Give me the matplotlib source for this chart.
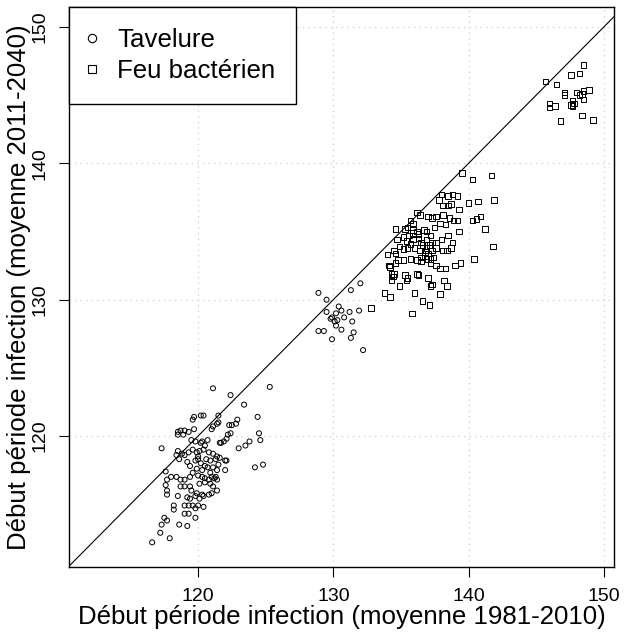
import numpy as np
import matplotlib
matplotlib.use("Agg")
import matplotlib.pyplot as plt
from matplotlib.lines import Line2D

plt.rcParams['font.family'] = ['Liberation Sans', 'DejaVu Sans']

# Tavelure : (moyenne 1981-2010, moyenne 2011-2040)
tavelure = [
    (121.1, 123.5), (125.3, 123.6), (122.4, 123.0), (123.4, 122.3), (124.4, 121.4),
    (119.7, 121.4), (119.6, 121.2), (120.2, 121.5), (120.4, 121.5), (121.5, 121.5),
    (122.9, 121.2), (122.8, 120.9), (122.5, 120.8), (122.3, 120.8), (121.5, 121.0),
    (121.4, 120.9), (121.1, 120.7), (121.0, 120.5), (124.5, 120.2), (118.5, 120.3),
    (118.7, 120.4), (119.0, 120.4), (118.5, 120.1), (118.9, 120.1), (119.3, 120.3),
    (119.7, 120.5), (122.4, 120.2), (122.2, 120.1), (122.1, 119.8), (121.9, 119.6),
    (121.7, 119.5), (121.6, 119.5), (124.6, 119.7), (123.8, 119.6), (123.5, 119.3),
    (123.0, 119.1), (117.3, 119.1), (119.5, 119.7), (119.8, 119.6), (120.2, 119.5),
    (120.3, 119.6), (120.7, 119.7), (120.5, 119.3), (118.5, 118.9), (118.8, 118.7),
    (118.4, 118.6), (118.6, 118.3), (119.0, 118.6), (119.3, 118.8), (119.6, 119.0),
    (119.9, 118.8), (120.1, 118.9), (120.0, 118.5), (120.8, 118.8), (121.1, 118.7),
    (121.4, 118.5), (121.3, 118.3), (121.6, 118.4), (120.9, 118.2), (122.0, 118.2),
    (122.1, 118.2), (121.5, 117.9), (121.1, 117.7), (121.4, 117.5), (122.0, 117.5),
    (120.7, 117.7), (120.9, 117.3), (121.3, 117.0), (121.2, 116.9), (124.2, 117.7),
    (124.8, 117.9), (117.6, 117.4), (118.0, 117.0), (118.4, 117.0), (118.7, 116.8),
    (119.0, 116.8), (119.4, 117.0), (119.6, 117.3), (120.0, 117.1), (120.3, 117.0),
    (120.5, 116.9), (120.8, 116.8), (121.0, 117.0), (121.4, 116.8), (117.7, 116.8),
    (117.6, 116.4), (117.7, 116.0), (117.7, 115.7), (118.7, 116.3), (119.0, 116.3),
    (119.4, 116.3), (120.1, 116.5), (120.5, 116.6), (120.9, 116.5), (121.1, 116.3),
    (121.4, 116.0), (121.0, 115.8), (120.8, 115.7), (120.3, 115.7), (119.9, 115.8),
    (119.5, 116.0), (118.5, 115.6), (119.2, 115.5), (119.4, 115.4), (119.8, 115.6),
    (120.1, 115.4), (120.4, 115.6), (118.2, 114.9), (118.2, 114.6), (119.0, 114.9),
    (119.3, 114.9), (119.6, 114.9), (120.0, 114.9), (120.4, 114.8), (119.8, 114.7),
    (119.0, 114.3), (119.3, 114.3), (119.8, 114.0), (117.5, 114.0), (117.7, 113.8),
    (117.3, 113.5), (117.2, 112.9), (117.9, 112.5), (118.6, 113.5), (119.2, 113.4),
    (116.6, 112.2),
    (119.8, 118.2), (120.2, 118.0), (120.5, 117.8), (119.9, 117.6), (120.3, 117.5),
    (120.6, 118.3), (119.4, 117.8), (120.0, 118.3), (119.2, 118.1), (120.4, 119.0),
    (132.0, 131.2), (131.3, 130.7), (128.9, 130.5), (129.5, 130.0), (130.4, 129.5),
    (130.6, 129.2), (131.2, 129.1), (131.9, 129.2), (129.5, 129.1), (129.9, 128.7),
    (130.2, 129.0), (130.3, 128.5), (130.1, 128.4), (130.8, 128.7), (131.4, 128.4),
    (129.8, 128.6), (130.2, 128.1), (130.6, 127.8), (128.9, 127.7), (129.3, 127.7),
    (129.9, 127.1), (131.5, 127.6), (131.3, 127.2), (132.2, 126.3),
]

# Feu bacterien
feu = [
    (139.5, 139.3), (141.7, 139.1), (140.3, 138.8), (141.9, 137.3), (140.0, 137.1),
    (140.7, 137.2), (138.0, 137.7), (138.5, 137.6), (138.8, 137.7), (139.2, 137.6),
    (138.7, 137.0), (138.5, 136.9), (138.1, 136.9), (137.8, 137.3), (139.3, 136.6),
    (136.2, 136.4), (136.4, 136.2), (137.0, 136.1), (137.3, 136.0), (137.6, 136.1),
    (138.1, 136.2), (138.6, 136.0), (138.9, 135.8), (139.2, 135.8), (137.9, 135.6),
    (138.3, 135.5), (137.5, 135.3), (135.7, 135.8), (135.9, 135.6), (135.5, 135.3),
    (135.3, 135.2), (134.6, 135.2), (135.9, 135.1), (136.2, 135.0), (136.7, 135.1),
    (136.9, 135.0), (137.2, 134.7), (140.3, 135.8), (140.6, 135.9), (140.9, 136.1),
    (141.2, 135.2), (141.8, 133.9), (139.3, 135.0), (134.7, 134.4), (135.2, 134.6),
    (134.9, 133.9), (135.4, 134.3), (135.7, 134.1), (135.9, 134.4), (136.3, 134.5),
    (136.5, 134.2), (136.9, 134.4), (137.3, 134.2), (137.6, 134.2), (138.0, 134.4),
    (138.5, 134.7), (138.8, 134.2), (138.7, 133.8), (134.0, 133.3), (134.6, 133.4),
    (135.2, 133.7), (135.5, 133.8), (136.0, 133.8), (136.4, 133.6), (136.8, 133.5),
    (137.0, 133.4), (137.3, 133.6), (137.6, 133.8), (138.1, 133.6), (138.4, 133.6),
    (134.2, 132.4), (134.6, 132.7), (134.8, 132.9), (135.2, 132.9), (135.7, 133.0),
    (136.2, 132.9), (136.5, 133.1), (136.9, 133.0), (137.2, 133.0), (137.4, 133.1),
    (137.6, 132.5), (137.9, 132.3), (138.3, 132.3), (139.0, 132.5), (139.4, 132.7),
    (140.4, 133.0), (134.3, 131.9), (134.4, 131.7), (135.3, 131.8), (135.5, 131.6),
    (135.4, 131.4), (136.2, 131.9), (136.3, 131.8), (137.0, 131.6), (137.3, 131.1),
    (137.2, 131.0), (138.2, 131.4), (138.4, 131.0), (137.9, 130.4), (134.9, 131.0),
    (133.8, 130.5), (134.2, 130.2), (136.0, 130.5), (136.6, 129.9), (137.1, 129.6),
    (135.8, 129.0), (132.8, 129.4), (134.1, 132.5), (134.5, 131.9), (134.3, 131.4),
    (134.5, 133.6),
    (136.6, 134.0), (136.9, 133.8), (137.1, 134.0), (136.8, 133.2), (137.0, 133.0),
    (136.5, 132.8), (137.2, 132.7), (135.6, 134.7), (135.9, 134.9), (136.3, 134.8),
    (148.5, 147.2), (147.6, 146.5), (148.2, 146.6), (145.7, 146.0), (146.5, 145.8),
    (147.1, 145.2), (147.1, 145.0), (148.0, 145.2), (148.4, 145.1), (148.5, 145.3),
    (148.9, 145.4), (148.2, 145.0), (148.5, 144.7), (147.7, 144.6), (147.6, 144.3),
    (147.8, 144.4), (147.7, 144.2), (146.0, 144.4), (146.0, 144.1), (146.4, 144.2),
    (146.8, 143.1), (148.4, 143.5), (149.2, 143.2),
]

ticks = [120, 130, 140, 150]
xlim = (110.45, 150.76)
ylim = (110.39, 151.47)

tav = np.array(tavelure)
fb = np.array(feu)

fig = plt.figure(figsize=(6.24, 6.35), dpi=100)
ax = fig.add_axes([69 / 624, 68 / 635, 545 / 624, 560 / 635])

ax.grid(True, color='lightgray', linestyle=(0, (1, 3)), linewidth=1)
ax.set_axisbelow(True)

ax.plot([100, 160], [100, 160], color='black', lw=0.8, zorder=2)
ax.scatter(tav[:, 0], tav[:, 1], s=13, marker='o', facecolors='none',
           edgecolors='black', linewidths=0.7, zorder=3)
ax.scatter(fb[:, 0], fb[:, 1], s=16, marker='s', facecolors='none',
           edgecolors='black', linewidths=0.7, zorder=3)

ax.set_xlim(*xlim)
ax.set_ylim(*ylim)
ax.set_xticks(ticks)
ax.set_yticks(ticks)
ax.set_yticklabels([str(t) for t in ticks], rotation=90, va='center')
ax.tick_params(length=7, width=0.8, labelsize=14, pad=8, color='black')
for s in ax.spines.values():
    s.set_linewidth(1)

ax.set_xlabel('Début période infection (moyenne 1981-2010)', fontsize=18.6, labelpad=0)
ax.set_ylabel('Début période infection (moyenne 2011-2040)', fontsize=18.6, labelpad=0)

handles = [
    Line2D([], [], marker='o', ls='none', mfc='none', mec='black', ms=6, mew=0.8),
    Line2D([], [], marker='s', ls='none', mfc='none', mec='black', ms=6, mew=0.8),
]
leg = ax.legend(handles, ['Tavelure', 'Feu bactérien'], loc='upper left',
                borderaxespad=0, fancybox=False, edgecolor='black', framealpha=1,
                fontsize=18.6, handlelength=0.18, handletextpad=0.88,
                borderpad=0.8, labelspacing=0.29)
leg.get_frame().set_linewidth(1)

fig.savefig('out.png', dpi=100)
